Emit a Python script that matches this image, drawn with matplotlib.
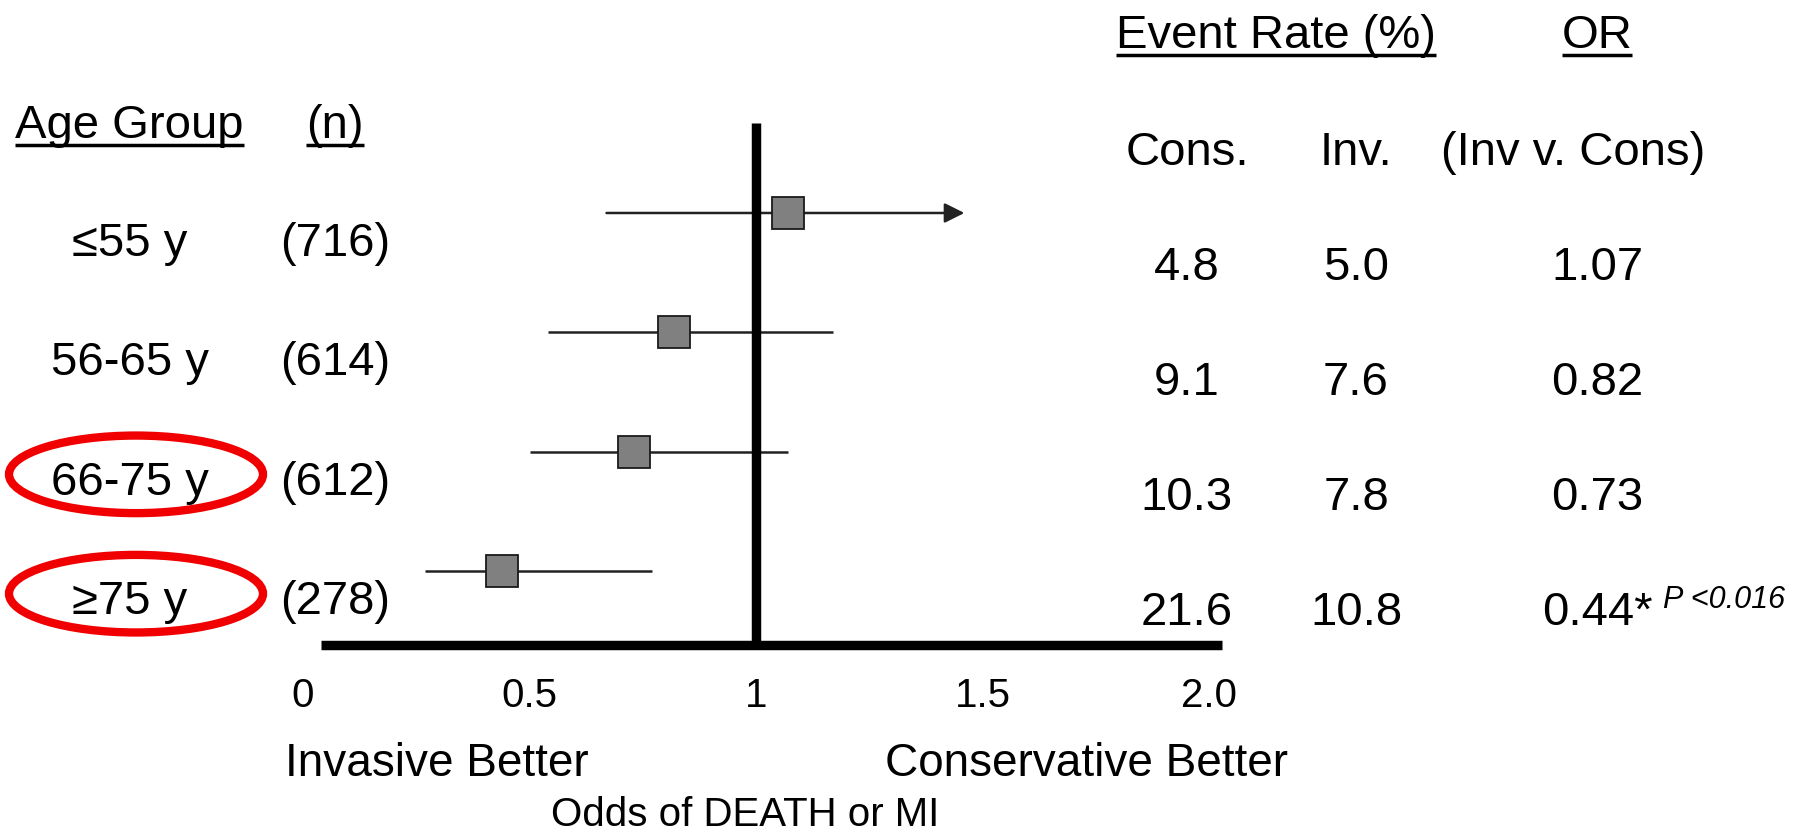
import matplotlib
matplotlib.use("Agg")
import matplotlib.pyplot as plt
import matplotlib.transforms as mtransforms
from matplotlib.patches import Ellipse
from matplotlib.lines import Line2D

plt.rcParams['font.family'] = ['Liberation Sans', 'DejaVu Sans']

# subgroup data
age_groups = ["≤55 y", "56-65 y", "66-75 y", "≥75 y"]
n_patients = [716, 614, 612, 278]
rate_cons = [4.8, 9.1, 10.3, 21.6]
rate_inv = [5.0, 7.6, 7.8, 10.8]
odds_ratio = [1.07, 0.82, 0.73, 0.44]
ci_low = [0.67, 0.54, 0.50, 0.27]
ci_high = [1.46, 1.17, 1.07, 0.77]
ci_arrow = [True, False, False, False]
or_signif = [False, False, False, True]
p_note = "P <0.016"
circled = ["66-75 y", "≥75 y"]

xtick_vals = [0, 0.5, 1, 1.5, 2]
xtick_labels = ["0", "0.5", "1", "1.5", "2.0"]

W, H = 1800, 836
fig = plt.figure(figsize=(W / 100, H / 100), dpi=100)


def fx(px):
    return px / W


def fy(py):
    return 1 - py / H


def xval(px):
    # horizontal pixel -> odds ratio (1 at px 756, 453 px per unit)
    return 1 + (px - 756) / 453


# forest panel (pixel layout -> figure fractions)
ax = fig.add_axes([fx(260), fy(645), fx(1222) - fx(260), fy(123) - fy(645)])
ax.set_xticks(xtick_vals, xtick_labels)
ax.set_xlim(xval(260), xval(1222))
ax.set_ylim(3.62, -0.754)
for s in ["top", "left", "right"]:
    ax.spines[s].set_visible(False)
ax.spines["bottom"].set_bounds(xval(321), xval(1222))
ax.spines["bottom"].set_linewidth(6.8)
ax.spines["bottom"].set_capstyle("butt")
ax.set_yticks([])
ax.tick_params(axis="x", length=0, pad=23, labelsize=29)
ax.patch.set_alpha(0)

ax.axvline(1, color="black", lw=6.8, solid_capstyle="butt", zorder=3)

rows = list(range(len(age_groups)))
for i in rows:
    if ci_arrow[i]:
        ax.annotate("", xy=(ci_high[i], i), xytext=(ci_low[i], i),
                    arrowprops=dict(arrowstyle="-|>,head_length=0.6,head_width=0.3",
                                    mutation_scale=20, lw=1.8, color="#222222",
                                    shrinkA=0, shrinkB=0),
                    zorder=2)
    else:
        ax.hlines(i, ci_low[i], ci_high[i], color="#222222", lw=1.8, zorder=2)

ax.plot(odds_ratio, rows, "s", ms=23, mfc="#808080", mec="#1a1a1a", mew=1.3,
        zorder=4, clip_on=False)

# left columns, tied to the row positions
trans = mtransforms.blended_transform_factory(fig.transFigure, ax.transData)
for i, (g, n) in enumerate(zip(age_groups, n_patients)):
    ax.text(fx(130), i + 0.36, g, transform=trans, ha="center", va="baseline", fontsize=34)
    ax.text(fx(335), i + 0.36, f"({n})", transform=trans, ha="center", va="baseline", fontsize=34)

for g in circled:
    i = age_groups.index(g)
    e = Ellipse((fx(136), i + 0.19), width=254 / W, height=0.65, transform=trans,
                fill=False, ec="#f00000", lw=6)
    fig.add_artist(e)

# headers
hdr_age = fig.text(fx(15), fy(138), "Age Group", ha="left", va="baseline", fontsize=34)
hdr_n = fig.text(fx(335), fy(138), "(n)", ha="center", va="baseline", fontsize=34)
hdr_rate = fig.text(fx(1116), fy(48), "Event Rate (%)", ha="left", va="baseline", fontsize=34)
hdr_or = fig.text(fx(1597), fy(48), "OR", ha="center", va="baseline", fontsize=34)
fig.text(fx(1187), fy(165), "Cons.", ha="center", va="baseline", fontsize=34)
fig.text(fx(1356), fy(165), "Inv.", ha="center", va="baseline", fontsize=34)
fig.text(fx(1573), fy(165), "(Inv v. Cons)", ha="center", va="baseline", fontsize=34)

# event rate / OR table
for i in rows:
    base = 280 + 115 * i
    fig.text(fx(1187), fy(base), f"{rate_cons[i]:.1f}", ha="center", va="baseline", fontsize=34)
    fig.text(fx(1356), fy(base), f"{rate_inv[i]:.1f}", ha="center", va="baseline", fontsize=34)
    lab = f"{odds_ratio[i]:.2f}" + ("*" if or_signif[i] else "")
    fig.text(fx(1597), fy(base), lab, ha="center", va="baseline", fontsize=34)
    if or_signif[i]:
        fig.text(fx(1663), fy(base - 17), p_note, ha="left", va="baseline",
                 fontsize=22, style="italic")

# bottom captions
fig.text(fx(285), fy(776), "Invasive Better", ha="left", va="baseline", fontsize=33)
fig.text(fx(885), fy(776), "Conservative Better", ha="left", va="baseline", fontsize=33)
fig.text(fx(745), fy(826), "Odds of DEATH or MI", ha="center", va="baseline", fontsize=29)

# underline the column headers
fig.canvas.draw()
for t, base in [(hdr_age, 138), (hdr_n, 138), (hdr_rate, 48), (hdr_or, 48)]:
    bb = t.get_window_extent()
    fig.add_artist(Line2D([bb.x0 / W, bb.x1 / W], [fy(base + 7)] * 2,
                          transform=fig.transFigure, color="black", lw=2.5,
                          solid_capstyle="butt"))

fig.savefig("out.png", dpi=100)
